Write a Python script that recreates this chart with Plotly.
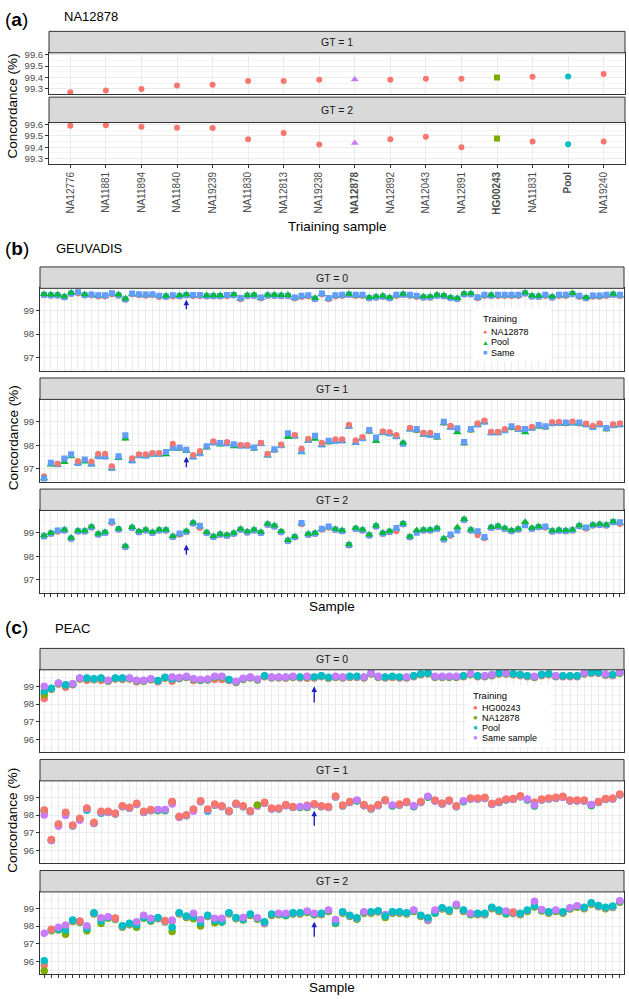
import plotly.graph_objects as go

W, H = 629, 999
def X(px): return px / W
def Y(py): return 1 - py / H

FONT = "Liberation Sans, Arial, Helvetica, sans-serif"
GRID = "#EBEBEB"
MINOR = "#F4F4F4"
BORDER = "#333333"
TICKCOL = "#4D4D4D"

# ---------------- (a) NA12878 ----------------
training_samples = ["NA12776", "NA11881", "NA11894", "NA11840", "NA19239", "NA11830", "NA12813", "NA19238",
                    "NA12878", "NA12892", "NA12043", "NA12891", "HG00243", "NA11831", "Pool", "NA19240"]
bold_training = ["NA12878", "HG00243", "Pool"]
na12878_gt1 = [99.271, 99.286, 99.300, 99.329, 99.337, 99.369, 99.369, 99.380,
               99.383, 99.380, 99.389, 99.389, 99.400, 99.406, 99.409, 99.431]
na12878_gt2 = [99.589, 99.594, 99.580, 99.571, 99.569, 99.471, 99.526, 99.423,
               99.437, 99.471, 99.491, 99.400, 99.477, 99.451, 99.426, 99.451]

# ---------------- (b) GEUVADIS ----------------
geu_samples = list(range(1, 87))
geu_gt0_na12878 = [99.66, 99.64, 99.64, 99.57, 99.72, 99.74, 99.65, 99.65, 99.61, 99.61,
                   99.70, 99.64, 99.47, 99.69, 99.66, 99.64, 99.66, 99.59, 99.59, 99.61,
                   99.61, 99.65, 99.62, 99.62, 99.61, 99.61, 99.61, 99.62, 99.65, 99.49,
                   99.62, 99.63, 99.52, 99.63, 99.63, 99.62, 99.62, 99.52, 99.59, 99.61,
                   99.49, 99.69, 99.49, 99.61, 99.63, 99.67, 99.63, 99.63, 99.52, 99.56,
                   99.59, 99.52, 99.63, 99.67, 99.63, 99.59, 99.56, 99.56, 99.63, 99.61,
                   99.53, 99.49, 99.69, 99.69, 99.53, 99.63, 99.63, 99.63, 99.63, 99.63,
                   99.63, 99.73, 99.60, 99.59, 99.63, 99.56, 99.63, 99.63, 99.70, 99.59,
                   99.52, 99.60, 99.60, 99.63, 99.67, 99.63]
geu_gt0_pool = [99.71, 99.69, 99.69, 99.62, 99.77, 99.76, 99.70, 99.67, 99.63, 99.63,
                99.72, 99.69, 99.52, 99.71, 99.68, 99.66, 99.68, 99.61, 99.64, 99.63,
                99.66, 99.70, 99.64, 99.64, 99.66, 99.66, 99.66, 99.64, 99.70, 99.51,
                99.67, 99.68, 99.54, 99.68, 99.68, 99.67, 99.67, 99.54, 99.61, 99.63,
                99.54, 99.71, 99.51, 99.63, 99.65, 99.72, 99.65, 99.65, 99.57, 99.61,
                99.64, 99.57, 99.65, 99.72, 99.65, 99.61, 99.61, 99.61, 99.68, 99.66,
                99.58, 99.54, 99.74, 99.74, 99.55, 99.65, 99.68, 99.65, 99.65, 99.65,
                99.65, 99.78, 99.65, 99.64, 99.65, 99.61, 99.65, 99.65, 99.75, 99.61,
                99.57, 99.62, 99.62, 99.65, 99.72, 99.65]
geu_gt0_same = [99.68, 99.66, 99.66, 99.59, 99.74, 99.79, 99.67, 99.70, 99.66, 99.66,
                99.75, 99.66, 99.49, 99.74, 99.71, 99.69, 99.71, 99.64, 99.61, 99.66,
                99.63, 99.67, 99.67, 99.67, 99.63, 99.63, 99.63, 99.67, 99.67, 99.54,
                99.64, 99.65, 99.57, 99.65, 99.65, 99.64, 99.64, 99.57, 99.64, 99.66,
                99.51, 99.74, 99.54, 99.66, 99.68, 99.69, 99.68, 99.68, 99.54, 99.58,
                99.61, 99.54, 99.68, 99.69, 99.68, 99.64, 99.58, 99.58, 99.65, 99.63,
                99.55, 99.51, 99.71, 99.71, 99.58, 99.68, 99.65, 99.68, 99.68, 99.68,
                99.68, 99.75, 99.62, 99.61, 99.68, 99.58, 99.68, 99.68, 99.72, 99.64,
                99.54, 99.65, 99.65, 99.68, 99.69, 99.68]
geu_gt0_top = "PPPPPSPSSS" "SPPSSSSSPS" "PPSSPPPSPS" "PPSPPPPSSS" "PSSSSPSSPP" "PPSPSSPPPP" "PPPPSSPSSS" "SPPPSPSSPS" "PSSSPS"

geu_gt1_na12878 = [96.68, 97.22, 97.21, 97.38, 97.58, 97.33, 97.36, 97.31, 97.64, 97.64,
                   97.10, 97.49, 98.32, 97.44, 97.61, 97.61, 97.67, 97.67, 97.66, 98.06,
                   97.87, 97.78, 97.58, 97.75, 97.93, 98.17, 98.07, 98.14, 98.00, 98.01,
                   98.01, 97.87, 98.11, 97.64, 97.80, 98.03, 98.39, 98.44, 97.86, 98.28,
                   98.33, 98.11, 98.15, 98.25, 98.25, 98.87, 98.21, 98.35, 98.60, 98.28,
                   98.60, 98.56, 98.44, 98.08, 98.75, 98.64, 98.53, 98.53, 98.35, 98.95,
                   98.83, 98.68, 98.10, 98.65, 98.94, 99.06, 98.58, 98.58, 98.69, 98.76,
                   98.74, 98.65, 98.79, 98.82, 98.78, 98.99, 99.00, 98.93, 99.01, 98.93,
                   98.93, 98.83, 98.94, 98.70, 98.90, 98.94]
geu_gt1_pool = [96.58, 97.17, 97.15, 97.28, 97.52, 97.22, 97.30, 97.18, 97.52, 97.50,
                97.01, 97.45, 98.28, 97.33, 97.55, 97.52, 97.60, 97.60, 97.61, 97.86,
                97.85, 97.75, 97.48, 97.64, 97.90, 98.10, 98.03, 98.05, 97.95, 97.96,
                97.96, 97.85, 98.05, 97.56, 97.78, 97.98, 98.35, 98.38, 97.70, 98.19,
                98.27, 98.00, 98.12, 98.16, 98.18, 98.80, 98.10, 98.28, 98.58, 98.17,
                98.52, 98.48, 98.36, 98.11, 98.68, 98.62, 98.44, 98.42, 98.33, 98.93,
                98.75, 98.55, 98.08, 98.63, 98.86, 98.98, 98.52, 98.52, 98.62, 98.74,
                98.66, 98.55, 98.72, 98.80, 98.76, 98.92, 98.93, 98.91, 98.94, 98.91,
                98.86, 98.76, 98.87, 98.68, 98.83, 98.87]
geu_gt1_same = [96.57, 97.25, 97.19, 97.43, 97.61, 97.24, 97.39, 97.21, 97.53, 97.52,
                97.03, 97.53, 98.43, 97.35, 97.57, 97.56, 97.64, 97.64, 97.71, 97.89,
                97.90, 97.81, 97.52, 97.66, 97.96, 98.12, 98.10, 98.08, 98.04, 97.98,
                97.98, 97.90, 98.08, 97.60, 97.83, 98.00, 98.51, 98.40, 97.75, 98.22,
                98.40, 98.03, 98.19, 98.18, 98.20, 98.82, 98.14, 98.30, 98.65, 98.33,
                98.55, 98.50, 98.38, 98.06, 98.70, 98.69, 98.49, 98.44, 98.39, 99.00,
                98.78, 98.72, 98.14, 98.69, 98.88, 99.00, 98.54, 98.54, 98.64, 98.81,
                98.69, 98.69, 98.74, 98.86, 98.81, 98.94, 98.95, 98.97, 98.96, 98.97,
                98.88, 98.78, 98.89, 98.74, 98.85, 98.89]
geu_gt1_top = "SSRSSRSRRR" "RSSRRRRRSR" "SSRRSRSRSR" "RSRRSRSRRR" "SRSRRRRRSS" "RRRPRSRRSS" "RSSSRRRRRS" "RSRSSRRSRS" "RRRSRR"

geu_gt2_na12878 = [98.84, 98.95, 99.05, 99.09, 98.74, 99.05, 99.05, 99.22, 98.92, 98.99,
                   99.42, 99.13, 98.39, 99.20, 99.02, 99.09, 98.99, 99.09, 99.09, 98.81,
                   98.92, 99.03, 99.39, 99.21, 98.98, 98.81, 98.91, 98.87, 98.95, 99.12,
                   99.01, 99.09, 98.99, 99.34, 99.26, 99.02, 98.64, 98.80, 99.37, 98.91,
                   98.95, 99.13, 99.22, 99.12, 99.06, 98.46, 99.16, 99.09, 98.88, 99.26,
                   98.95, 99.03, 99.07, 99.36, 98.80, 99.06, 99.09, 99.09, 99.16, 98.71,
                   98.88, 99.19, 99.54, 99.09, 98.90, 98.77, 99.20, 99.25, 99.16, 99.06,
                   99.13, 99.41, 99.16, 99.23, 99.22, 99.05, 99.08, 99.06, 99.09, 99.27,
                   99.18, 99.30, 99.33, 99.30, 99.44, 99.38]
geu_gt2_pool = [98.89, 99.00, 99.07, 99.14, 98.79, 99.10, 99.10, 99.27, 98.97, 99.04,
                99.46, 99.18, 98.44, 99.25, 99.07, 99.14, 99.04, 99.14, 99.14, 98.86,
                98.94, 99.08, 99.44, 99.27, 99.03, 98.86, 98.96, 98.92, 99.00, 99.17,
                99.06, 99.14, 99.04, 99.39, 99.31, 99.07, 98.69, 98.85, 99.39, 98.96,
                99.00, 99.15, 99.24, 99.17, 99.11, 98.51, 99.21, 99.14, 98.93, 99.31,
                99.00, 99.08, 99.18, 99.41, 98.85, 99.11, 99.14, 99.14, 99.21, 98.76,
                98.90, 99.24, 99.59, 99.14, 99.04, 98.79, 99.25, 99.30, 99.21, 99.11,
                99.18, 99.46, 99.21, 99.28, 99.24, 99.10, 99.13, 99.11, 99.14, 99.32,
                99.20, 99.35, 99.38, 99.35, 99.49, 99.42]
geu_gt2_same = [98.86, 98.97, 99.10, 99.11, 98.76, 99.07, 99.07, 99.24, 98.94, 99.01,
                99.49, 99.15, 98.41, 99.22, 99.04, 99.11, 99.01, 99.11, 99.11, 98.83,
                98.97, 99.05, 99.41, 99.30, 99.00, 98.83, 98.93, 98.89, 98.97, 99.14,
                99.03, 99.11, 99.01, 99.36, 99.28, 99.04, 98.66, 98.82, 99.42, 98.93,
                98.97, 99.18, 99.27, 99.14, 99.08, 98.48, 99.18, 99.11, 98.90, 99.28,
                98.97, 99.05, 99.21, 99.38, 98.82, 99.00, 99.11, 99.11, 99.18, 98.73,
                98.93, 99.10, 99.56, 99.11, 99.07, 98.82, 99.22, 99.27, 99.18, 99.08,
                99.15, 99.33, 99.18, 99.25, 99.27, 99.07, 99.10, 99.08, 99.11, 99.29,
                99.23, 99.32, 99.35, 99.32, 99.46, 99.45]
geu_gt2_top = "PPSPPPPPPP" "SPPPPPPPPP" "SPPSPPPPPP" "PPPPPPPPSP" "PSSPPPPPPP" "PPSPPPPPPP" "SPPPSSPPPP" "PPPPSPPPPP" "SPPPPS"

# ---------------- (c) PEAC ----------------
peac_samples = list(range(1, 83))
peac_gt0_hg00243 = [98.31, 98.83, 99.13, 98.94, 99.09, 99.41, 99.34, 99.37, 99.34, 99.28,
                    99.41, 99.38, 99.41, 99.25, 99.28, 99.37, 99.26, 99.45, 99.28, 99.43,
                    99.50, 99.32, 99.32, 99.35, 99.38, 99.38, 99.32, 99.22, 99.39, 99.47,
                    99.35, 99.54, 99.47, 99.47, 99.45, 99.50, 99.47, 99.45, 99.47, 99.54,
                    99.45, 99.50, 99.47, 99.50, 99.50, 99.47, 99.69, 99.50, 99.47, 99.50,
                    99.47, 99.47, 99.54, 99.65, 99.69, 99.50, 99.50, 99.50, 99.50, 99.54,
                    99.65, 99.54, 99.54, 99.60, 99.69, 99.69, 99.65, 99.60, 99.54, 99.50,
                    99.60, 99.65, 99.54, 99.54, 99.54, 99.54, 99.69, 99.73, 99.73, 99.63,
                    99.60, 99.73]
peac_gt0_na12878 = [98.53, 98.85, 99.15, 99.05, 99.11, 99.43, 99.43, 99.39, 99.43, 99.30,
                    99.43, 99.43, 99.43, 99.30, 99.30, 99.39, 99.28, 99.47, 99.49, 99.45,
                    99.52, 99.39, 99.34, 99.37, 99.52, 99.52, 99.34, 99.24, 99.41, 99.49,
                    99.37, 99.56, 99.49, 99.49, 99.49, 99.52, 99.49, 99.52, 99.49, 99.56,
                    99.47, 99.52, 99.49, 99.52, 99.52, 99.49, 99.71, 99.52, 99.49, 99.52,
                    99.49, 99.49, 99.56, 99.67, 99.71, 99.52, 99.52, 99.52, 99.52, 99.56,
                    99.67, 99.56, 99.56, 99.62, 99.71, 99.71, 99.67, 99.62, 99.56, 99.52,
                    99.62, 99.67, 99.56, 99.56, 99.56, 99.56, 99.71, 99.75, 99.75, 99.65,
                    99.62, 99.75]
peac_gt0_pool = [98.72, 98.89, 99.17, 99.09, 99.13, 99.45, 99.47, 99.43, 99.47, 99.32,
                 99.47, 99.47, 99.45, 99.32, 99.32, 99.41, 99.32, 99.51, 99.41, 99.47,
                 99.54, 99.41, 99.36, 99.39, 99.54, 99.54, 99.38, 99.26, 99.43, 99.51,
                 99.39, 99.60, 99.51, 99.51, 99.51, 99.54, 99.53, 99.54, 99.53, 99.60,
                 99.51, 99.54, 99.51, 99.56, 99.56, 99.51, 99.73, 99.54, 99.53, 99.56,
                 99.53, 99.51, 99.60, 99.71, 99.75, 99.54, 99.54, 99.54, 99.54, 99.60,
                 99.69, 99.60, 99.58, 99.64, 99.75, 99.73, 99.71, 99.66, 99.60, 99.54,
                 99.66, 99.71, 99.58, 99.60, 99.60, 99.60, 99.73, 99.79, 99.79, 99.67,
                 99.66, 99.77]
peac_gt0_same = [99.00, 98.87, 99.19, 99.07, 99.15, 99.47, 99.45, 99.41, 99.45, 99.34,
                 99.45, 99.45, 99.47, 99.34, 99.34, 99.43, 99.30, 99.49, 99.53, 99.49,
                 99.56, 99.43, 99.38, 99.41, 99.56, 99.56, 99.36, 99.28, 99.45, 99.53,
                 99.41, 99.58, 99.53, 99.53, 99.53, 99.56, 99.51, 99.56, 99.51, 99.58,
                 99.49, 99.56, 99.53, 99.54, 99.54, 99.53, 99.75, 99.56, 99.51, 99.54,
                 99.51, 99.53, 99.58, 99.69, 99.73, 99.56, 99.56, 99.56, 99.56, 99.58,
                 99.71, 99.58, 99.60, 99.66, 99.73, 99.75, 99.69, 99.64, 99.58, 99.56,
                 99.64, 99.69, 99.60, 99.58, 99.58, 99.58, 99.75, 99.77, 99.77, 99.69,
                 99.64, 99.79]
peac_gt0_top = "SPSPSSPPPS" "PPSSSSPPSS" "SSSSSSPSSS" "SPSSSSPSPP" "PSSPPSSSPP" "PSPPPSSSSP" "SPSSPSPPPS" "PPSPPPSPPS" "PS"

peac_gt1_hg00243 = [98.29, 96.62, 97.50, 98.16, 97.44, 97.82, 98.40, 97.59, 98.21, 98.21,
                    98.12, 98.53, 98.44, 98.66, 98.21, 98.31, 98.28, 98.28, 98.77, 97.93,
                    98.02, 98.34, 98.81, 98.34, 98.62, 98.53, 98.25, 98.66, 98.53, 98.25,
                    98.52, 98.72, 98.40, 98.40, 98.59, 98.49, 98.46, 98.55, 98.64, 98.53,
                    98.49, 99.08, 98.57, 98.77, 98.82, 98.59, 98.40, 98.59, 98.87, 98.54,
                    98.62, 98.77, 98.50, 98.77, 99.03, 98.85, 98.68, 98.85, 98.53, 98.78,
                    98.96, 98.96, 99.00, 98.66, 98.77, 98.91, 98.94, 99.09, 98.88, 98.72,
                    98.91, 98.96, 99.00, 99.06, 98.85, 98.85, 98.85, 98.56, 98.77, 98.94,
                    98.96, 99.19]
peac_gt1_na12878 = [98.23, 96.56, 97.44, 98.10, 97.38, 97.76, 98.34, 97.53, 98.15, 98.15,
                    98.06, 98.47, 98.38, 98.60, 98.15, 98.25, 98.25, 98.25, 98.71, 97.87,
                    97.96, 98.28, 98.75, 98.28, 98.56, 98.47, 98.19, 98.60, 98.47, 98.19,
                    98.57, 98.66, 98.34, 98.34, 98.53, 98.43, 98.43, 98.43, 98.58, 98.47,
                    98.43, 99.02, 98.51, 98.71, 98.79, 98.53, 98.34, 98.53, 98.81, 98.51,
                    98.56, 98.71, 98.47, 98.71, 99.00, 98.79, 98.62, 98.79, 98.47, 98.75,
                    98.90, 98.90, 98.94, 98.60, 98.71, 98.85, 98.88, 99.03, 98.85, 98.51,
                    98.85, 98.90, 98.94, 99.00, 98.79, 98.79, 98.79, 98.53, 98.71, 98.88,
                    98.90, 99.13]
peac_gt1_pool = [98.25, 96.58, 97.46, 98.12, 97.40, 97.78, 98.27, 97.55, 98.10, 98.17,
                 98.08, 98.49, 98.40, 98.62, 98.17, 98.27, 98.27, 98.27, 98.73, 97.89,
                 97.98, 98.30, 98.77, 98.21, 98.58, 98.49, 98.21, 98.62, 98.49, 98.21,
                 98.53, 98.68, 98.36, 98.36, 98.55, 98.45, 98.45, 98.45, 98.60, 98.49,
                 98.45, 99.04, 98.53, 98.73, 98.81, 98.55, 98.36, 98.55, 98.83, 98.53,
                 98.58, 98.73, 98.49, 98.73, 99.02, 98.81, 98.64, 98.81, 98.49, 98.77,
                 98.92, 98.92, 98.96, 98.62, 98.73, 98.87, 98.90, 99.05, 98.87, 98.53,
                 98.87, 98.92, 98.96, 99.02, 98.81, 98.81, 98.81, 98.55, 98.73, 98.90,
                 98.92, 99.15]
peac_gt1_same = [98.00, 96.57, 97.37, 97.98, 97.39, 97.71, 98.35, 97.54, 98.16, 98.16,
                 98.07, 98.48, 98.39, 98.61, 98.16, 98.26, 98.31, 98.31, 98.62, 97.88,
                 97.97, 98.21, 98.76, 98.29, 98.57, 98.48, 98.20, 98.61, 98.48, 98.20,
                 98.50, 98.67, 98.35, 98.35, 98.54, 98.44, 98.49, 98.49, 98.59, 98.48,
                 98.44, 99.03, 98.52, 98.72, 98.85, 98.54, 98.35, 98.54, 98.82, 98.57,
                 98.57, 98.72, 98.53, 98.72, 99.06, 98.80, 98.63, 98.80, 98.48, 98.81,
                 98.91, 98.91, 98.95, 98.61, 98.72, 98.86, 98.89, 99.04, 98.91, 98.57,
                 98.86, 98.91, 98.95, 99.01, 98.80, 98.80, 98.80, 98.59, 98.72, 98.89,
                 98.91, 99.14]
peac_gt1_top = "HHHHHHHHHH" "HHHHHHSSHH" "HHHHHHHHHH" "NHHHHHSSHH" "HHHHSHHHHS" "HHSHSHHHHS" "HHHHHHHHSS" "HHHHHHHSHH" "HH"

peac_gt2_hg00243 = [95.81, 97.82, 97.88, 98.01, 98.29, 98.29, 97.97, 98.71, 98.42, 98.48,
                    98.46, 97.97, 98.11, 98.20, 98.57, 98.39, 98.44, 98.31, 98.29, 98.71,
                    98.52, 98.67, 98.33, 98.57, 98.39, 98.39, 98.71, 98.44, 98.44, 98.63,
                    98.42, 98.20, 98.63, 98.67, 98.67, 98.71, 98.71, 98.80, 98.67, 98.67,
                    98.86, 98.33, 98.76, 98.57, 98.42, 98.76, 98.76, 98.82, 98.52, 98.76,
                    98.76, 98.71, 98.86, 98.57, 98.42, 98.86, 98.99, 98.86, 99.18, 98.86,
                    98.67, 98.67, 98.67, 99.01, 98.86, 98.80, 98.79, 98.67, 98.86, 99.36,
                    98.89, 98.76, 98.86, 98.76, 98.99, 99.10, 99.01, 99.27, 99.12, 99.01,
                    99.08, 99.38]
peac_gt2_na12878 = [95.47, 97.74, 97.78, 97.54, 98.26, 98.21, 97.74, 98.68, 98.15, 98.45,
                    98.38, 97.94, 98.08, 97.93, 98.44, 98.28, 98.41, 98.23, 97.69, 98.68,
                    98.49, 98.42, 98.00, 98.54, 98.19, 98.22, 98.68, 98.41, 98.35, 98.60,
                    98.39, 98.14, 98.60, 98.64, 98.58, 98.68, 98.68, 98.77, 98.64, 98.64,
                    98.83, 98.15, 98.73, 98.54, 98.39, 98.73, 98.73, 98.79, 98.49, 98.73,
                    98.73, 98.68, 98.83, 98.54, 98.31, 98.72, 98.96, 98.83, 99.15, 98.83,
                    98.64, 98.64, 98.64, 98.98, 98.83, 98.68, 98.71, 98.64, 98.83, 99.08,
                    98.86, 98.73, 98.83, 98.73, 98.96, 99.07, 98.98, 99.24, 99.09, 98.98,
                    99.05, 99.35]
peac_gt2_pool = [96.04, 97.79, 97.82, 97.78, 98.34, 98.26, 97.87, 98.76, 98.29, 98.50,
                 98.43, 98.02, 98.16, 98.06, 98.49, 98.31, 98.49, 98.28, 97.93, 98.76,
                 98.57, 98.53, 98.19, 98.62, 98.31, 98.25, 98.76, 98.49, 98.38, 98.68,
                 98.44, 98.25, 98.68, 98.69, 98.62, 98.76, 98.76, 98.82, 98.69, 98.72,
                 98.88, 98.19, 98.81, 98.62, 98.47, 98.78, 98.81, 98.87, 98.57, 98.81,
                 98.81, 98.76, 98.88, 98.62, 98.47, 98.76, 99.04, 98.91, 99.20, 98.91,
                 98.69, 98.72, 98.72, 99.06, 98.91, 98.72, 98.76, 98.72, 98.91, 99.13,
                 98.91, 98.81, 98.88, 98.81, 99.01, 99.12, 99.06, 99.32, 99.17, 99.06,
                 99.13, 99.40]
peac_gt2_same = [97.59, 97.79, 97.93, 98.06, 98.31, 98.26, 98.02, 98.73, 98.47, 98.53,
                 98.43, 97.99, 98.13, 98.25, 98.62, 98.44, 98.46, 98.28, 98.34, 98.73,
                 98.54, 98.72, 98.38, 98.59, 98.44, 98.44, 98.73, 98.46, 98.49, 98.65,
                 98.47, 98.16, 98.65, 98.72, 98.72, 98.73, 98.73, 98.85, 98.72, 98.69,
                 98.91, 98.38, 98.78, 98.59, 98.44, 98.81, 98.78, 98.84, 98.66, 98.78,
                 98.78, 98.73, 98.91, 98.59, 98.34, 98.91, 99.01, 98.88, 99.23, 98.88,
                 98.72, 98.69, 98.69, 99.03, 98.88, 98.85, 98.76, 98.69, 98.88, 99.41,
                 98.94, 98.78, 98.91, 98.78, 99.04, 99.15, 99.03, 99.29, 99.14, 99.03,
                 99.10, 99.43]
peac_gt2_top = "SHSSPHSPSS" "HPPSSSPHSP" "PSSPSSPPSP" "SPPSSPPSSP" "SSPPPSPPPP" "PPSPPSPPSP" "SPPPPSHPPS" "SPSPSSPPPP" "PS"

# arrows: highlighted sample, (tail, head) per facet
geu_arrow_sample = 22
geu_arrows = [(99.0, 99.47), (97.0, 97.51), (98.0, 98.5)]
peac_arrow_sample = 39
peac_arrows = [(98.0, 99.0), (97.31, 98.25), (97.31, 98.25)]

# ---------------- figure ----------------
fig = go.Figure()
layout = dict(width=W, height=H, margin=dict(l=0, r=0, t=0, b=0),
              paper_bgcolor="white", plot_bgcolor="white", showlegend=False,
              font=dict(family=FONT, color="#000000"))
shapes, annos = [], []

def axis_names(n):
    return ("x" if n == 1 else f"x{n}", "y" if n == 1 else f"y{n}",
            "xaxis" if n == 1 else f"xaxis{n}", "yaxis" if n == 1 else f"yaxis{n}")

def add_panel(n, x0, x1, strip_top, plot_top, plot_bot, label, xcfg, ycfg):
    xr, yr, xk, yk = axis_names(n)
    base_line = dict(showline=True, mirror=True, linecolor=BORDER, linewidth=1, zeroline=False, fixedrange=True)
    xa = dict(domain=[X(x0), X(x1)], anchor=yr, showgrid=True, gridcolor=GRID, gridwidth=1, **base_line)
    xa.update(xcfg)
    ya = dict(domain=[Y(plot_bot), Y(plot_top)], anchor=xr, showgrid=True, gridcolor=GRID, gridwidth=1,
              ticks="outside", ticklen=3, tickcolor=BORDER, tickwidth=1,
              tickfont=dict(size=9.5, color=TICKCOL, family=FONT), **base_line)
    ya.update(ycfg)
    layout[xk] = xa
    layout[yk] = ya
    shapes.append(dict(type="rect", xref="paper", yref="paper", x0=X(x0), x1=X(x1),
                       y0=Y(plot_top), y1=Y(strip_top), fillcolor="#D9D9D9",
                       line=dict(color=BORDER, width=1), layer="above"))
    annos.append(dict(xref="paper", yref="paper", x=X((x0 + x1) / 2), y=Y((strip_top + plot_top) / 2),
                      text=label, showarrow=False, font=dict(size=10.5, color="#1A1A1A"),
                      xanchor="center", yanchor="middle"))
    return xr, yr

def add_layered(xr, yr, samples, series, top, order, styles):
    for layer_top in (False, True):
        for code in order:
            xs = [s for s, t in zip(samples, top) if (t == code) == layer_top]
            ys = [v for v, t in zip(series[code], top) if (t == code) == layer_top]
            color, symbol, size = styles[code]
            fig.add_trace(go.Scatter(x=xs, y=ys, mode="markers", xaxis=xr, yaxis=yr, hoverinfo="skip",
                                     marker=dict(color=color, symbol=symbol, size=size, line=dict(width=0))))

# ---- (a)
AX0, AX1 = 49, 625
a_xcfg_top = dict(type="category", categoryorder="array", categoryarray=training_samples,
                  range=[-0.6, len(training_samples) - 0.4], showticklabels=False, ticks="")
a_ticktext = [f"<b>{t}</b>" if t in bold_training else t for t in training_samples]
a_xcfg_bot = dict(type="category", categoryorder="array", categoryarray=training_samples,
                  range=[-0.6, len(training_samples) - 0.4], tickmode="array",
                  tickvals=training_samples, ticktext=a_ticktext, tickangle=-90,
                  ticks="outside", ticklen=3, tickcolor=BORDER,
                  tickfont=dict(size=10, color=TICKCOL, family=FONT))
a_ycfg = dict(range=[99.254, 99.617], tickmode="linear", tick0=99.3, dtick=0.1, tickformat=".1f",
              minor=dict(dtick=0.05, tick0=99.25, showgrid=True, gridcolor=MINOR, gridwidth=0.6))
a_style = {"NA12878": ("#C77CFF", "triangle-up", 7), "HG00243": ("#7CAE00", "square", 6),
           "Pool": ("#00BFC4", "circle", 6)}
for n, (strip_top, plot_top, plot_bot), label, vals, xcfg in [
        (1, (27.5, 49, 90.5), "GT = 1", na12878_gt1, a_xcfg_top),
        (2, (93.5, 119, 160.5), "GT = 2", na12878_gt2, a_xcfg_bot)]:
    xr, yr = add_panel(n, AX0, AX1, strip_top, plot_top, plot_bot, label, xcfg, a_ycfg)
    others = [(s, v) for s, v in zip(training_samples, vals) if s not in a_style]
    fig.add_trace(go.Scatter(x=[s for s, _ in others], y=[v for _, v in others], mode="markers",
                             xaxis=xr, yaxis=yr, hoverinfo="skip",
                             marker=dict(color="#F8766D", symbol="circle", size=6, line=dict(width=0))))
    for name, (c, sym, sz) in a_style.items():
        fig.add_trace(go.Scatter(x=[name], y=[vals[training_samples.index(name)]], mode="markers",
                                 xaxis=xr, yaxis=yr, hoverinfo="skip",
                                 marker=dict(color=c, symbol=sym, size=sz, line=dict(width=0))))

# ---- (b)
BX0, BX1 = 40, 624
b_rows = [(264, 285.5, 368), (375.5, 397, 479.5), (487, 508.5, 591)]
b_ycfg = dict(range=[96.447, 99.957], tickmode="linear", tick0=97, dtick=1,
              minor=dict(dtick=0.5, tick0=96.5, showgrid=True, gridcolor=MINOR, gridwidth=0.6))
b_styles = {"R": ("#F8766D", "circle", 6), "P": ("#00BA38", "triangle-up", 7.5), "S": ("#619CFF", "square", 6)}
b_series = [
    ({"R": geu_gt0_na12878, "P": geu_gt0_pool, "S": geu_gt0_same}, geu_gt0_top),
    ({"R": geu_gt1_na12878, "P": geu_gt1_pool, "S": geu_gt1_same}, geu_gt1_top),
    ({"R": geu_gt2_na12878, "P": geu_gt2_pool, "S": geu_gt2_same}, geu_gt2_top)]
for i, ((st, pt, pb), (ser, top)) in enumerate(zip(b_rows, b_series)):
    n = 3 + i
    bottom = i == 2
    xcfg = dict(range=[0.4, len(geu_samples) + 0.6], tickmode="array", tickvals=geu_samples,
                showticklabels=False, ticks="outside" if bottom else "", ticklen=3, tickcolor=BORDER)
    xr, yr = add_panel(n, BX0, BX1, st, pt, pb, f"GT = {i}", xcfg, b_ycfg)
    add_layered(xr, yr, geu_samples, ser, list(top), ["R", "P", "S"], b_styles)
    tail, head = geu_arrows[i]
    annos.append(dict(x=geu_arrow_sample, y=head, ax=geu_arrow_sample, ay=tail, xref=xr, yref=yr,
                      axref=xr, ayref=yr, text="", showarrow=True, arrowhead=2, arrowsize=0.8,
                      arrowwidth=1.4, arrowcolor="#2020C0", standoff=0, startstandoff=0))

# ---- (c)
c_rows = [(647, 668.5, 751), (758.5, 780, 862.5), (870, 891.5, 974)]
c_ycfg = dict(range=[95.29, 99.93], tickmode="linear", tick0=96, dtick=1,
              minor=dict(dtick=0.5, tick0=95.5, showgrid=True, gridcolor=MINOR, gridwidth=0.6))
c_styles = {"H": ("#F8766D", "circle", 7.5), "N": ("#7CAE00", "circle", 7.5),
            "P": ("#00BFC4", "circle", 7.5), "S": ("#C77CFF", "circle", 7.5)}
c_series = [
    ({"H": peac_gt0_hg00243, "N": peac_gt0_na12878, "P": peac_gt0_pool, "S": peac_gt0_same}, peac_gt0_top),
    ({"H": peac_gt1_hg00243, "N": peac_gt1_na12878, "P": peac_gt1_pool, "S": peac_gt1_same}, peac_gt1_top),
    ({"H": peac_gt2_hg00243, "N": peac_gt2_na12878, "P": peac_gt2_pool, "S": peac_gt2_same}, peac_gt2_top)]
for i, ((st, pt, pb), (ser, top)) in enumerate(zip(c_rows, c_series)):
    n = 6 + i
    bottom = i == 2
    xcfg = dict(range=[0.4, len(peac_samples) + 0.6], tickmode="array", tickvals=peac_samples,
                showticklabels=False, ticks="outside" if bottom else "", ticklen=3, tickcolor=BORDER)
    xr, yr = add_panel(n, BX0, BX1, st, pt, pb, f"GT = {i}", xcfg, c_ycfg)
    add_layered(xr, yr, peac_samples, ser, list(top), ["H", "N", "P", "S"], c_styles)
    tail, head = peac_arrows[i]
    annos.append(dict(x=peac_arrow_sample, y=head, ax=peac_arrow_sample, ay=tail, xref=xr, yref=yr,
                      axref=xr, ayref=yr, text="", showarrow=True, arrowhead=2, arrowsize=0.8,
                      arrowwidth=1.4, arrowcolor="#2020C0", standoff=0, startstandoff=0))

# ---- text: panel letters, titles, axis titles
def txt(x, y, s, size, xanchor="left", angle=0, color="#000000"):
    annos.append(dict(xref="paper", yref="paper", x=X(x), y=Y(y), text=s, showarrow=False,
                      font=dict(size=size, color=color, family=FONT), xanchor=xanchor,
                      yanchor="middle", textangle=angle))

txt(3, 16, "(<b>a</b>)", 19)
txt(62, 13, "NA12878", 13)
txt(3, 245, "(<b>b</b>)", 19)
txt(54, 245, "GEUVADIS", 13)
txt(3, 626, "(<b>c</b>)", 19)
txt(53, 627, "PEAC", 13)
txt(13, 103, "Concordance (%)", 13.5, "center", -90)
txt(13, 436, "Concordance (%)", 13.5, "center", -90)
txt(13, 820, "Concordance (%)", 13.5, "center", -90)
txt(337, 223, "Triaining sample", 13.5, "center")
txt(332, 605, "Sample", 13.5, "center")
txt(332, 987, "Sample", 13.5, "center")

# ---- legends (drawn as text inside panels)
shapes.append(dict(type="rect", xref="paper", yref="paper", x0=X(473), x1=X(551), y0=Y(359), y1=Y(305),
                   fillcolor="white", line=dict(width=0), layer="above"))
txt(481, 316, "Training", 9.5)
for (glyph, gsize, col), name, yy in zip([("●", 7, "#F8766D"), ("▲", 7, "#00BA38"), ("■", 7, "#619CFF")],
                                         ["NA12878", "Pool", "Same"], [329, 339.5, 350]):
    txt(485, yy, glyph, gsize, "center", color=col)
    txt(489, yy, name, 9)

shapes.append(dict(type="rect", xref="paper", yref="paper", x0=X(466), x1=X(551), y0=Y(746), y1=Y(684),
                   fillcolor="white", line=dict(width=0), layer="above"))
txt(471, 694, "Training", 9.5)
for col, name, yy in zip(["#F8766D", "#7CAE00", "#00BFC4", "#C77CFF"],
                         ["HG00243", "NA12878", "Pool", "Same sample"], [706.5, 716.5, 726.5, 736.5]):
    txt(475, yy, "●", 8, "center", color=col)
    txt(480, yy, name, 9)

layout["shapes"] = shapes
layout["annotations"] = annos
fig.update_layout(**layout)
fig.write_html("out.html", config={"displayModeBar": False},
               post_script="document.body.style.margin='0';")
